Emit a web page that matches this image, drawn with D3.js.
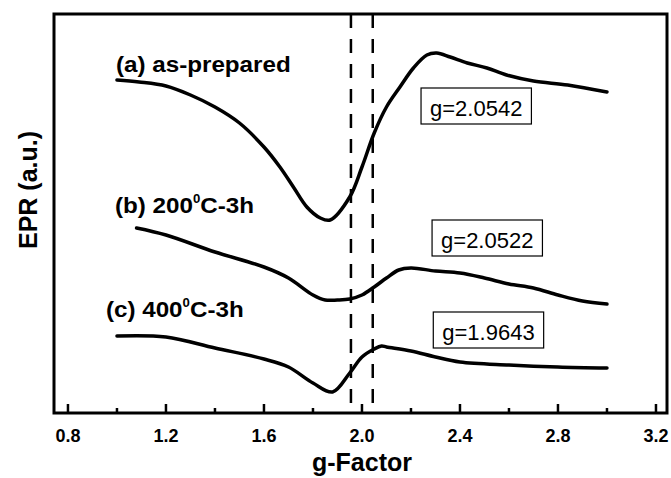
<!DOCTYPE html>
<html>
<head>
<meta charset="utf-8">
<script src="https://cdn.jsdelivr.net/npm/d3@7"></script>
<style>
  body { margin: 0; background: #fff; }
  text { font-family: Arial, "Liberation Sans", sans-serif; }
</style>
</head>
<body>
<div id="chart"></div>
<script>
// g values (x) and signal in arbitrary units (y)
var gA = [1.0, 1.09, 1.2, 1.3, 1.4, 1.5, 1.6, 1.665, 1.72, 1.775, 1.83, 1.87, 1.95, 2.0, 2.05, 2.1, 2.155, 2.21, 2.265, 2.305, 2.36, 2.43, 2.51, 2.59, 2.7, 2.84, 3.0];
var epA = [333, 331, 327, 318, 306, 290, 266, 246, 226, 206, 195, 193, 216, 246, 280, 306, 326, 345, 358, 360, 356, 350, 345, 338, 332, 328, 321];

var gB = [1.08, 1.2, 1.4, 1.6, 1.7, 1.8, 1.85, 1.9, 1.95, 2.0, 2.05, 2.1, 2.15, 2.2, 2.3, 2.4, 2.5, 2.6, 2.7, 2.8, 2.9, 3.0];
var epB = [185, 178, 161, 146, 135, 118, 113, 113, 114, 118, 126, 135, 143, 145, 142, 140, 135, 129, 125, 118, 112, 109];

var gC = [1.0, 1.2, 1.4, 1.6, 1.7, 1.8, 1.88, 1.95, 2.0, 2.05, 2.08, 2.1, 2.2, 2.3, 2.4, 2.6, 2.8, 3.0];
var epC = [77, 76, 65, 54, 46, 30, 21, 40, 56, 64, 67, 66, 62, 56, 51, 48, 46, 45];

var xTicks = [0.8, 1.2, 1.6, 2.0, 2.4, 2.8, 3.2];
var xMinor = [1.0, 1.4, 1.8, 2.2, 2.6, 3.0];
var dashG = [1.955, 2.044];

var labels = [
  {text: "(a) as-prepared", g: 0.996, v: 341},
  {text: "(b) 200", sup: "0", rest: "C-3h", g: 0.992, v: 200},
  {text: "(c) 400", sup: "0", rest: "C-3h", g: 0.955, v: 96}
];
var boxes = [
  {text: "g=2.0542", g: 2.237, v: 297},
  {text: "g=2.0522", g: 2.282, v: 165},
  {text: "g=1.9643", g: 2.287, v: 73}
];

var width = 671, height = 478;
var mLeft = 54, mRight = 667, mTop = 14, mBottom = 413;

var svg = d3.select("#chart").append("svg")
  .attr("width", width)
  .attr("height", height);

var x = d3.scaleLinear().domain([0.743, 3.245]).range([mLeft, mRight]);
var y = d3.scaleLinear().domain([0, 399]).range([mBottom, mTop]);

// dashed markers
svg.selectAll(".dash").data(dashG).enter().append("line")
  .attr("x1", d => x(d)).attr("x2", d => x(d))
  .attr("y1", mTop).attr("y2", mBottom - 10)
  .attr("stroke", "#000").attr("stroke-width", 2.5)
  .attr("stroke-dasharray", "14,11");

var line = d3.line().curve(d3.curveCatmullRom.alpha(0.5))
  .x(d => x(d[0])).y(d => y(d[1]));

[[gA, epA], [gB, epB], [gC, epC]].forEach(function(s) {
  svg.append("path")
    .datum(d3.zip(s[0], s[1]))
    .attr("d", line)
    .attr("fill", "none")
    .attr("stroke", "#000")
    .attr("stroke-width", 3.5)
    .attr("stroke-linecap", "round");
});

// ticks (inward)
svg.selectAll(".tk").data(xTicks).enter().append("line")
  .attr("x1", d => x(d)).attr("x2", d => x(d))
  .attr("y1", mBottom).attr("y2", mBottom - 9)
  .attr("stroke", "#000").attr("stroke-width", 2.5);
svg.selectAll(".mtk").data(xMinor).enter().append("line")
  .attr("x1", d => x(d)).attr("x2", d => x(d))
  .attr("y1", mBottom).attr("y2", mBottom - 5)
  .attr("stroke", "#000").attr("stroke-width", 2.5);

svg.selectAll(".tl").data(xTicks).enter().append("text")
  .attr("x", d => x(d)).attr("y", 442)
  .attr("text-anchor", "middle")
  .attr("font-size", 18).attr("font-weight", "bold")
  .text(d => d.toFixed(1));

// frame
svg.append("rect")
  .attr("x", mLeft).attr("y", mTop)
  .attr("width", mRight - mLeft).attr("height", mBottom - mTop)
  .attr("fill", "none").attr("stroke", "#000").attr("stroke-width", 3);

// axis titles
svg.append("text")
  .attr("x", 362).attr("y", 471)
  .attr("text-anchor", "middle")
  .attr("font-size", 25).attr("font-weight", "bold")
  .text("g-Factor");
svg.append("text")
  .attr("transform", "translate(37,190) rotate(-90)")
  .attr("text-anchor", "middle")
  .attr("font-size", 25).attr("font-weight", "bold")
  .text("EPR (a.u.)");

// curve labels (slightly stretched like the original)
labels.forEach(function(l) {
  var t = svg.append("text")
    .attr("transform", "translate(" + x(l.g) + "," + y(l.v) + ") scale(1.1,1)")
    .attr("font-size", 22).attr("font-weight", "bold");
  t.append("tspan").text(l.text);
  if (l.sup) {
    t.append("tspan").attr("dy", -10).attr("font-size", 12).text(l.sup);
    t.append("tspan").attr("dy", 10).text(l.rest);
  }
});

// g value boxes
boxes.forEach(function(b) {
  var g = svg.append("g");
  var t = g.append("text")
    .attr("x", x(b.g) + 10).attr("y", y(b.v))
    .attr("font-size", 22)
    .text(b.text);
  var bb = t.node().getBBox();
  g.insert("rect", "text")
    .attr("x", bb.x - 9).attr("y", bb.y - 8)
    .attr("width", bb.width + 18).attr("height", bb.height + 11)
    .attr("fill", "#fff").attr("stroke", "#000").attr("stroke-width", 1.2);
});
</script>
</body>
</html>
